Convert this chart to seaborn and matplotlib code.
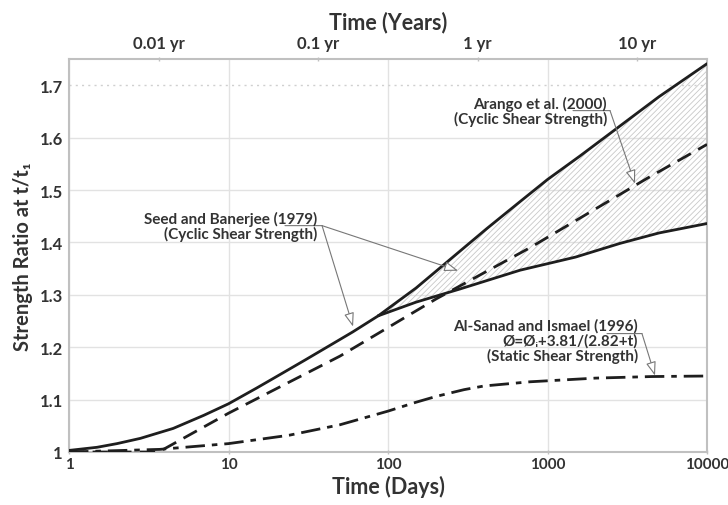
import numpy as np
import pandas as pd
import matplotlib
matplotlib.use("Agg")
import matplotlib.pyplot as plt
import seaborn as sns

# ---- data (x in days, y = strength ratio) ----
base_days = [1, 1.5, 2, 2.8, 4.5, 7, 10, 15, 19, 30, 43, 60, 87]
base_ratio = [1.003, 1.009, 1.016, 1.026, 1.045, 1.070, 1.092, 1.122, 1.140, 1.175, 1.203, 1.229, 1.260]

upper_days = [87, 150, 221, 415, 674, 1000, 1600, 2570, 5000, 10000]
upper_ratio = [1.260, 1.313, 1.356, 1.426, 1.478, 1.520, 1.565, 1.612, 1.678, 1.741]

lower_days = [87, 150, 282, 674, 1500, 2840, 5000, 10000]
lower_ratio = [1.260, 1.286, 1.311, 1.347, 1.372, 1.398, 1.418, 1.436]

dashed_days = [1, 3.65, 10, 50, 200, 778, 4200, 10000]
dashed_ratio = [1.000, 1.000, 1.074, 1.183, 1.292, 1.390, 1.522, 1.587]

alsanad_days = [1, 3.7, 10, 24, 50, 100, 150, 200, 300, 400, 778, 2000, 4500, 10000]
alsanad_ratio = [1.000, 1.005, 1.016, 1.032, 1.052, 1.078, 1.095, 1.106, 1.119, 1.126, 1.134, 1.141, 1.144, 1.145]

day_ticks = [1, 10, 100, 1000, 10000]
day_labels = ["1", "10", "100", "1000", "10000"]
year_ticks = [0.01, 0.1, 1, 10]
year_labels = ["0.01 yr", "0.1 yr", "1 yr", "10 yr"]
ratio_ticks = [1.0, 1.1, 1.2, 1.3, 1.4, 1.5, 1.6, 1.7]
ratio_labels = ["1", "1.1", "1.2", "1.3", "1.4", "1.5", "1.6", "1.7"]

# ---- style ----
sns.set_theme(style="white")
FONT = ["Lato", "DejaVu Sans"]
plt.rcParams["font.family"] = FONT
plt.rcParams["hatch.linewidth"] = 0.6
plt.rcParams["hatch.color"] = "#c8c8c8"
TXT = "#333333"
LINE = "#1e1e1e"
SPINE = "#c0c0c0"

fig = plt.figure(figsize=(7.28, 5.06), dpi=100)
ax = fig.add_axes([69 / 728, 1 - 453 / 506, (707 - 69) / 728, (453 - 60) / 506])

# hatched band between the two Arango bounds
poly_x = list(upper_days) + list(lower_days[::-1])
poly_y = list(upper_ratio) + list(lower_ratio[::-1])
ax.fill(poly_x, poly_y, facecolor="none", edgecolor="#c8c8c8", hatch="//////", linewidth=0, zorder=1)

df_base = pd.DataFrame({"days": base_days, "ratio": base_ratio})
df_up = pd.DataFrame({"days": upper_days, "ratio": upper_ratio})
df_low = pd.DataFrame({"days": lower_days, "ratio": lower_ratio})
df_dash = pd.DataFrame({"days": dashed_days, "ratio": dashed_ratio})
df_as = pd.DataFrame({"days": alsanad_days, "ratio": alsanad_ratio})

for d in (df_base, df_up, df_low):
    sns.lineplot(data=d, x="days", y="ratio", ax=ax, color=LINE, linewidth=2.0, zorder=3)
sns.lineplot(data=df_dash, x="days", y="ratio", ax=ax, color=LINE, linewidth=2.0,
             linestyle=(0, (5.5, 3.0)), zorder=3)
sns.lineplot(data=df_as, x="days", y="ratio", ax=ax, color=LINE, linewidth=2.0,
             linestyle=(0, (7, 2.5, 2, 2.5)), zorder=3)

ax.set_xscale("log")
ax.set_xlim(1, 10000)
ax.set_ylim(1.0, 1.75)
ax.set_xticks(day_ticks)
ax.set_xticklabels(day_labels)
ax.xaxis.set_minor_locator(matplotlib.ticker.NullLocator())
ax.set_yticks(ratio_ticks)
ax.set_yticklabels(ratio_labels)

ax.grid(True, color="#e2e2e2", linewidth=1.0, zorder=0)
ygl = ax.yaxis.get_gridlines()
ygl[-1].set_linestyle((0, (1.5, 3)))
ygl[-1].set_color("#d0d0d0")
ax.set_axisbelow(True)

for s in ax.spines.values():
    s.set_color(SPINE)
    s.set_linewidth(1.5)

ax.tick_params(axis="both", which="major", labelsize=12, colors=TXT, length=3,
               color=SPINE, width=1, direction="inout")
ax.tick_params(axis="x", pad=2, labelsize=11)
ax.tick_params(axis="y", pad=3)
for lab in ax.get_xticklabels() + ax.get_yticklabels():
    lab.set_fontweight("bold")

ax.set_xlabel("Time (Days)", fontsize=15.5, fontweight="bold", color=TXT, labelpad=3)
ax.set_ylabel("Strength Ratio at t/t\u2081", fontsize=14.5, fontweight="bold", color=TXT, labelpad=5)

# top axis in years
ax2 = ax.twiny()
ax2.set_xscale("log")
ax2.set_xlim(1 / 365, 10000 / 365)
ax2.set_xticks(year_ticks)
ax2.set_xticklabels(year_labels)
ax2.xaxis.set_minor_locator(matplotlib.ticker.NullLocator())
ax2.tick_params(axis="x", labelsize=12, colors=TXT, length=3, color=SPINE,
                width=1, direction="inout", pad=4)
for lab in ax2.get_xticklabels():
    lab.set_fontweight("bold")
ax2.set_xlabel("Time (Years)", fontsize=15.5, fontweight="bold", color=TXT, labelpad=5)
for s in ax2.spines.values():
    s.set_visible(False)

# ---- annotations ----
tk = dict(fontsize=11, fontweight="bold", color=TXT, ha="right", va="center",
          linespacing=1.0, zorder=5)
arrow = dict(arrowstyle="-|>,head_length=0.7,head_width=0.25", fc="white", ec="#777777",
             lw=0.8, shrinkA=0, shrinkB=0)
seg = dict(arrowstyle="-", color="#777777", lw=0.8, shrinkA=0, shrinkB=0)

# Arango et al.
ax.text(2361, 1.651, "Arango et al. (2000)\n(Cyclic Shear Strength)", **tk)
ax.annotate("", xy=(2466, 1.6515), xytext=(1445, 1.6515), arrowprops=seg)
ax.annotate("", xy=(3537, 1.512), xytext=(2466, 1.6515), arrowprops=arrow)

# Seed and Banerjee
ax.text(35.9, 1.432, "Seed and Banerjee (1979)\n(Cyclic Shear Strength)", **tk)
ax.annotate("", xy=(38.6, 1.432), xytext=(22.6, 1.432), arrowprops=seg)
ax.annotate("", xy=(60.4, 1.2393), xytext=(38.6, 1.432), arrowprops=arrow)
ax.annotate("", xy=(275, 1.346), xytext=(38.6, 1.432), arrowprops=arrow)

# Al-Sanad and Ismael
ax.text(3690, 1.2126, "Al-Sanad and Ismael (1996)\n\u00d8=\u00d8\u1d62+3.81/(2.82+t)\n(Static Shear Strength)", **tk)
ax.annotate("", xy=(3911, 1.226), xytext=(2361, 1.226), arrowprops=seg)
ax.annotate("", xy=(4721, 1.1458), xytext=(3911, 1.226), arrowprops=arrow)

fig.savefig("out.png", dpi=100)
